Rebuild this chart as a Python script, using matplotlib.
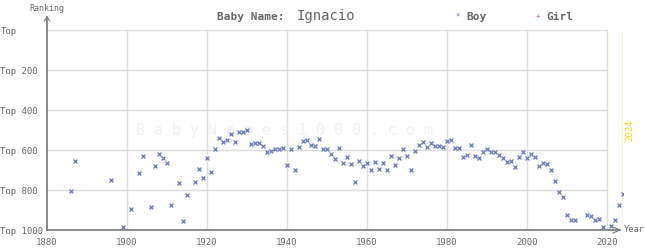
import matplotlib
matplotlib.use("Agg")
import matplotlib.pyplot as plt

# Ignacio, boy ranks by year (missing years = not in top 1000)
boy_years = [1886, 1887, 1896, 1899, 1901, 1903, 1904, 1906, 1907, 1908,
             1909, 1910, 1911, 1913, 1914, 1915, 1917, 1918, 1919, 1920,
             1921, 1922, 1923, 1924, 1925, 1926, 1927, 1928, 1929, 1930,
             1931, 1932, 1933, 1934, 1935, 1936, 1937, 1938, 1939, 1940,
             1941, 1942, 1943, 1944, 1945, 1946, 1947, 1948, 1949, 1950,
             1951, 1952, 1953, 1954, 1955, 1956, 1957, 1958, 1959, 1960,
             1961, 1962, 1963, 1964, 1965, 1966, 1967, 1968, 1969, 1970,
             1971, 1972, 1973, 1974, 1975, 1976, 1977, 1978, 1979, 1980,
             1981, 1982, 1983, 1984, 1985, 1986, 1987, 1988, 1989, 1990,
             1991, 1992, 1993, 1994, 1995, 1996, 1997, 1998, 1999, 2000,
             2001, 2002, 2003, 2004, 2005, 2006, 2007, 2008, 2009, 2010,
             2011, 2012, 2015, 2016, 2017, 2018, 2019, 2021, 2022, 2023,
             2024]
boy_ranks = [807, 657, 752, 987, 897, 717, 632, 887, 682, 620,
             642, 667, 877, 767, 957, 827, 762, 697, 742, 642,
             712, 597, 542, 562, 552, 522, 562, 512, 512, 502,
             572, 567, 567, 582, 612, 607, 597, 597, 592, 677,
             597, 702, 587, 557, 552, 577, 582, 547, 597, 597,
             622, 647, 592, 667, 637, 672, 762, 657, 682, 667,
             702, 662, 697, 667, 702, 632, 677, 642, 597, 632,
             702, 607, 577, 562, 587, 567, 582, 582, 587, 557,
             552, 592, 592, 637, 627, 577, 632, 642, 612, 597,
             612, 612, 627, 642, 662, 657, 687, 637, 612, 642,
             622, 637, 682, 667, 672, 702, 757, 812, 837, 927,
             952, 952, 927, 932, 952, 947, 987, 982, 952, 877,
             822]

y_ticks = [0, 200, 400, 600, 800, 1000]
y_labels = ["Top", "Top 200", "Top 400", "Top 600", "Top 800", "Top 1000"]
x_ticks = [1880, 1900, 1920, 1940, 1960, 1980, 2000, 2020]

FONT = "DejaVu Sans Mono"
grey = "#666666"
grid_c = "#dddddd"

fig = plt.figure(figsize=(6.45, 2.5), dpi=100)
ax = fig.add_axes([47 / 645, 20 / 250, 576 / 645, 200 / 250])
ax.set_xlim(1880, 2024)
ax.set_ylim(1000, 0)
for s in ax.spines.values():
    s.set_visible(False)

# grid
for yt in y_ticks[:-1]:
    ax.plot([1880, 2020], [yt, yt], color=grid_c, lw=1, zorder=1)
for xt in x_ticks[1:]:
    ax.plot([xt, xt], [0, 1000], color=grid_c, lw=1, zorder=1)

# axes with arrows
ax.plot([1880, 1880], [1000, -65], color="#777777", lw=1.2, clip_on=False, zorder=3)
ax.plot([1879.3, 1880, 1880.7], [-45, -65, -45], color="#777777", lw=0.8, clip_on=False, zorder=3)
ax.plot([1880, 2023.3], [1000, 1000], color="#777777", lw=1.2, clip_on=False, zorder=3)
ax.plot([2021.5, 2023.3, 2021.5], [985, 1000, 1015], color="#777777", lw=0.8, clip_on=False, zorder=3)

# current year line
ax.plot([2024, 2024], [0, 1000], color="#f2d400", lw=1, zorder=2)
ax.text(2025.8, 500, "2024", rotation=90, color="#f2d400", fontsize=6.5,
        family=FONT, ha="center", va="center")

ax.set_xticks(x_ticks)
ax.set_xticklabels([str(x) for x in x_ticks], family=FONT, fontsize=6.5, color=grey)
ax.set_yticks(y_ticks)
ax.set_yticklabels(y_labels, family=FONT, fontsize=6.5, color=grey, ha="left")
ax.tick_params(axis="both", length=0)
ax.tick_params(axis="y", pad=33.5)
ax.tick_params(axis="x", pad=6)

ax.text(1880, -85, "Ranking", family=FONT, fontsize=6, color=grey, ha="center", va="bottom")
ax.text(2024.3, 1000, "Year", family=FONT, fontsize=6.3, color=grey, ha="left", va="center")

# watermark
ax.text(1939.5, 500, "B a b y N a m e s 1 0 0 0 . c o m", family=FONT, fontsize=10.8,
        color="#f0f0f0", ha="center", va="center", zorder=0)

ax.scatter(boy_years, boy_ranks, marker="x", s=8, linewidths=0.9, color="#6677bb", zorder=4)

# title and legend
fig.text(217 / 645, 1 - 17 / 250, "Baby Name:", family=FONT, fontsize=8, weight="bold",
         color=grey, va="center", ha="left")
fig.text(297 / 645, 1 - 16 / 250, "Ignacio", family=FONT, fontsize=10, color=grey,
         va="center", ha="left")
fig.text(458 / 645, 1 - 16 / 250, "×", family=FONT, fontsize=5, color="#6677bb",
         va="center", ha="center")
fig.text(466 / 645, 1 - 17 / 250, "Boy", family=FONT, fontsize=8, weight="bold",
         color=grey, va="center", ha="left")
fig.text(538 / 645, 1 - 16 / 250, "+", family=FONT, fontsize=5, color="#cc5577",
         va="center", ha="center")
fig.text(546 / 645, 1 - 17 / 250, "Girl", family=FONT, fontsize=8, weight="bold",
         color=grey, va="center", ha="left")

fig.savefig("out.png", dpi=100)
